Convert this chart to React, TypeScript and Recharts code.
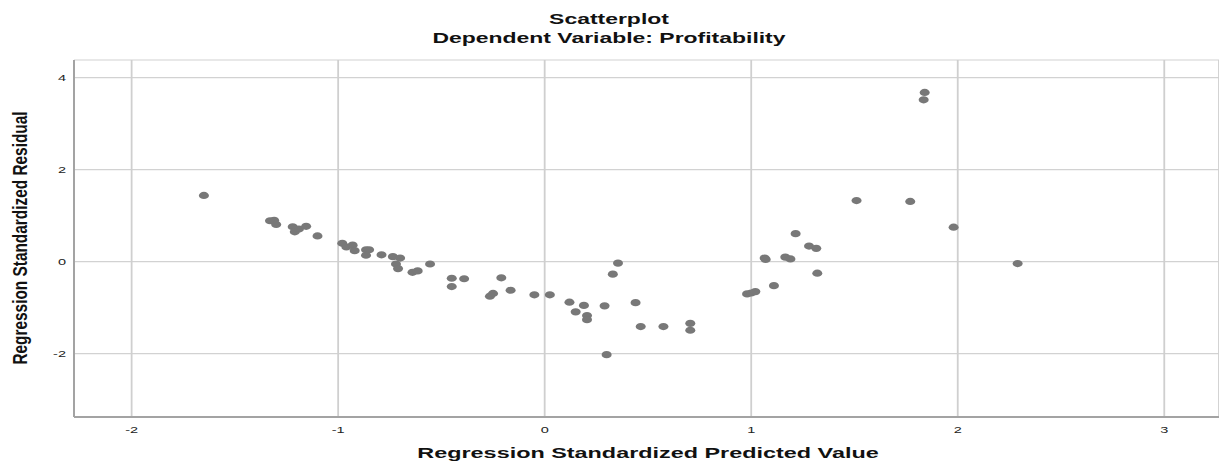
import { ScatterChart, Scatter, XAxis, YAxis, CartesianGrid } from "recharts";

// Regression Standardized Predicted Value (x) and Residual (y)
const predicted = [
  -1.65, -1.33, -1.31, -1.3, -1.22, -1.21, -1.19, -1.155, -1.1, -0.98, -0.96, -0.93, -0.92,
  -0.865, -0.85, -0.865, -0.79, -0.735, -0.7, -0.72, -0.71, -0.64, -0.615, -0.555, -0.45,
  -0.39, -0.45, -0.21, -0.265, -0.25, -0.165, -0.05, 0.025, 0.12, 0.15, 0.19, 0.205, 0.205,
  0.29, 0.3, 0.33, 0.355, 0.44, 0.465, 0.575, 0.705, 0.705, 0.98, 1.0, 1.02, 1.065, 1.07,
  1.11, 1.165, 1.19, 1.215, 1.28, 1.315, 1.32, 1.51, 1.77, 1.84, 1.835, 1.98, 2.29,
];
const residual = [
  1.44, 0.89, 0.9, 0.81, 0.76, 0.65, 0.71, 0.77, 0.56, 0.4, 0.32, 0.36, 0.24, 0.26, 0.26,
  0.14, 0.15, 0.11, 0.08, -0.05, -0.15, -0.23, -0.2, -0.05, -0.36, -0.37, -0.54, -0.35,
  -0.75, -0.69, -0.62, -0.72, -0.72, -0.88, -1.09, -0.95, -1.17, -1.26, -0.96, -2.02, -0.27,
  -0.03, -0.89, -1.41, -1.41, -1.34, -1.49, -0.7, -0.68, -0.65, 0.08, 0.05, -0.52, 0.1, 0.06,
  0.61, 0.34, 0.29, -0.25, 1.33, 1.31, 3.68, 3.52, 0.75, -0.04,
];

const xTicks = [-2, -1, 0, 1, 2, 3];
const yTicks = [-2, 0, 2, 4];

const data = predicted.map((x, i) => ({ x, y: residual[i] }));

const FONT = "'Liberation Sans', Arial, sans-serif";
const STRETCH = 1.53;

const XTick = ({ x, payload }: any) => (
  <text
    transform={`translate(${x},433) scale(${STRETCH},1)`}
    textAnchor="middle"
    fontSize={9.5}
    fontFamily={FONT}
    fill="#222"
  >
    {payload.value}
  </text>
);

const YTick = ({ y, payload }: any) => (
  <text
    transform={`translate(66,${y + 3.5}) scale(${STRETCH},1)`}
    textAnchor="end"
    fontSize={9.5}
    fontFamily={FONT}
    fill="#222"
  >
    {payload.value}
  </text>
);

const Dot = ({ cx, cy }: any) => <ellipse cx={cx} cy={cy} rx={5} ry={3.6} fill="#787878" />;

export default function App() {
  return (
    <div style={{ position: "absolute", left: 0, top: 0, width: 1219, height: 465, background: "#fff" }}>
      <ScatterChart width={1219} height={465} margin={{ top: 60, right: 0, bottom: 0, left: 0 }}>
        <CartesianGrid horizontal={true} vertical={false} stroke="#d2d2d2" strokeWidth={1.2} />
        <CartesianGrid horizontal={false} vertical={true} stroke="#cfcfcf" strokeWidth={1.8} />
        <XAxis
          type="number"
          dataKey="x"
          domain={[-2.279, 3.265]}
          ticks={xTicks}
          allowDataOverflow
          height={48}
          tickLine={false}
          axisLine={{ stroke: "#a3a3a3", strokeWidth: 2 }}
          tick={<XTick />}
        />
        <YAxis
          type="number"
          dataKey="y"
          domain={[-3.376, 4.385]}
          ticks={yTicks}
          allowDataOverflow
          width={74}
          tickLine={false}
          axisLine={{ stroke: "#a3a3a3", strokeWidth: 2 }}
          tick={<YTick />}
        />
        <Scatter data={data} shape={<Dot />} isAnimationActive={false} />
      </ScatterChart>
      <svg
        width={1219}
        height={465}
        style={{ position: "absolute", left: 0, top: 0, pointerEvents: "none" }}
      >
        <g fontFamily={FONT} fontWeight="bold" fill="#111" fontSize={15}>
          <text transform={`translate(609,24) scale(${STRETCH},1)`} textAnchor="middle">
            Scatterplot
          </text>
          <text transform={`translate(609,42.5) scale(${STRETCH},1)`} textAnchor="middle">
            Dependent Variable: Profitability
          </text>
          <text transform={`translate(648,458) scale(1.56,1)`} textAnchor="middle">
            Regression Standardized Predicted Value
          </text>
          <text transform="translate(27,238) rotate(-90) scale(1,1.35)" textAnchor="middle" fontSize={15.4}>
            Regression Standardized Residual
          </text>
        </g>
      </svg>
    </div>
  );
}
